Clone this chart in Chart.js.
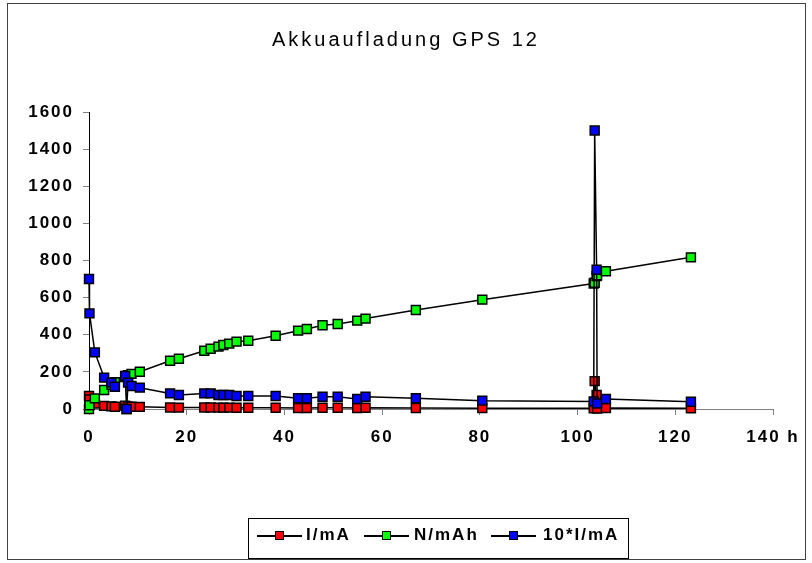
<!DOCTYPE html>
<html>
<head>
<meta charset="utf-8">
<script src="https://cdn.jsdelivr.net/npm/chart.js@4.4.1/dist/chart.umd.min.js"></script>
<style>
  body { margin: 0; background: #fff; }
  #wrap { position: relative; width: 812px; height: 563px; }
  #rahmen { position: absolute; left: 7px; top: 3px; width: 799px; height: 557px; border: 1px solid #404040; box-sizing: border-box; }
  #titel { position: absolute; left: 0; top: 28px; width: 812px; text-align: center;
           font: 20px 'Liberation Sans', Arial, sans-serif; letter-spacing: 3px; color: #000; }
  #legende { position: absolute; left: 248px; top: 518px; width: 381px; height: 41px;
             border: 1px solid #000; box-sizing: border-box; font: bold 17px 'Liberation Sans', Arial, sans-serif;
             letter-spacing: 2px; }
  .sym { position: absolute; top: 16px; width: 45px; height: 1.5px; background: #000; }
  .mk { position: absolute; left: 18px; top: -4px; width: 7px; height: 7px; border: 1.5px solid #000; }
  .txt { position: absolute; top: 6px; line-height: 20px; }
  canvas { position: absolute; left: 0; top: 0; }
</style>
</head>
<body>
<div id="wrap">
  <div id="rahmen"></div>
  <canvas id="grafik" width="812" height="563"></canvas>
  <div id="titel">Akkuaufladung GPS 12</div>
  <div id="legende">
    <div class="sym" style="left:8px"><div class="mk" style="background:#ff0000"></div></div>
    <div class="txt" style="left:57px">I/mA</div>
    <div class="sym" style="left:115px"><div class="mk" style="background:#00ff00"></div></div>
    <div class="txt" style="left:165px">N/mAh</div>
    <div class="sym" style="left:242px"><div class="mk" style="background:#0000ff"></div></div>
    <div class="txt" style="left:294px">10*I/mA</div>
  </div>
</div>
<script>
// Zeit in Stunden
const zeit = [0, 0.1, 1.2, 3.1, 4.6, 5.3, 7.4, 7.7, 8.0, 8.7, 10.4,
  16.6, 18.4, 23.6, 24.9, 26.5, 27.5, 28.7, 30.2, 32.6, 38.2, 42.8, 44.6,
  47.8, 50.9, 54.9, 56.6, 66.9, 80.5, 103.3, 103.5, 103.9, 104.0, 105.8, 123.2];

// I/mA
const strom = [70, 51, 30, 17, 14, 12, 18, 0, 14, 12, 11.5,
  8.4, 7.5, 8.4, 8.4, 7.5, 7.5, 7.5, 7, 7, 7, 5.8, 5.8,
  6.6, 6.6, 5.4, 6.6, 5.8, 4.5, 4, 150, 75, 3, 5.4, 3.9];

// N/mAh
const ladung = [0, 20, 57, 102, 130, 145, 172, 178, 182, 189, 201,
  260, 271, 314, 325, 336, 345, 352, 363, 368, 395, 422, 431,
  451, 458, 476, 487, 533, 589, 676, 680, 716, 720, 742, 817];

// 10*I/mA
const strom10 = [700, 515, 305, 169, 142, 120, 178, 0, 142, 124, 115,
  84, 75, 84, 84, 75, 75, 75, 70, 70, 70, 58, 58,
  66, 66, 54, 66, 58, 45, 40, 1500, 750, 30, 54, 39];

const einheitX = 'h';

function punkte(werte) {
  return zeit.map((t, i) => ({ x: t, y: werte[i] }));
}

function serie(label, werte, farbe, ordnung) {
  return {
    label: label,
    data: punkte(werte),
    showLine: true,
    borderColor: '#000',
    borderWidth: 1.5,
    pointStyle: 'rect',
    pointRadius: 6.3,
    pointHoverRadius: 6.3,
    pointBackgroundColor: farbe,
    pointBorderColor: '#000',
    pointBorderWidth: 1.5,
    clip: false,
    order: ordnung,
  };
}

const abstand = {
  id: 'abstand',
  beforeDraw(chart) {
    chart.ctx.letterSpacing = '2px';
  },
};

const schrift = { family: "'Liberation Sans', Arial, sans-serif", size: 17, weight: 'bold' };

new Chart(document.getElementById('grafik'), {
  type: 'scatter',
  data: {
    datasets: [
      serie('I/mA', strom, '#ff0000', 2),
      serie('N/mAh', ladung, '#00ff00', 1),
      serie('10*I/mA', strom10, '#0000ff', 0),
    ],
  },
  options: {
    responsive: false,
    animation: false,
    layout: { padding: { top: 112, right: 39, bottom: 104, left: 0 } },
    plugins: {
      legend: { display: false },
      title: { display: false },
      tooltip: { enabled: false },
    },
    scales: {
      x: {
        type: 'linear',
        min: 0,
        max: 140,
        afterFit: (s) => { s.height = 50; },
        border: { color: '#808080', width: 1 },
        grid: { drawOnChartArea: false, drawTicks: true, tickLength: 6, color: '#808080' },
        ticks: {
          stepSize: 20,
          color: '#000',
          font: schrift,
          padding: 12,
          maxRotation: 0,
          callback: (v) => (v === 140 ? v + ' ' + einheitX : String(v)),
        },
      },
      y: {
        min: 0,
        max: 1600,
        afterFit: (s) => { s.width = 89; },
        border: { color: '#000', width: 1 },
        grid: { drawOnChartArea: false, drawTicks: true, tickLength: 6, color: '#808080' },
        ticks: {
          stepSize: 200,
          color: '#000',
          font: schrift,
          padding: 9,
          callback: (v) => String(v),
        },
      },
    },
  },
  plugins: [abstand],
});
</script>
</body>
</html>
